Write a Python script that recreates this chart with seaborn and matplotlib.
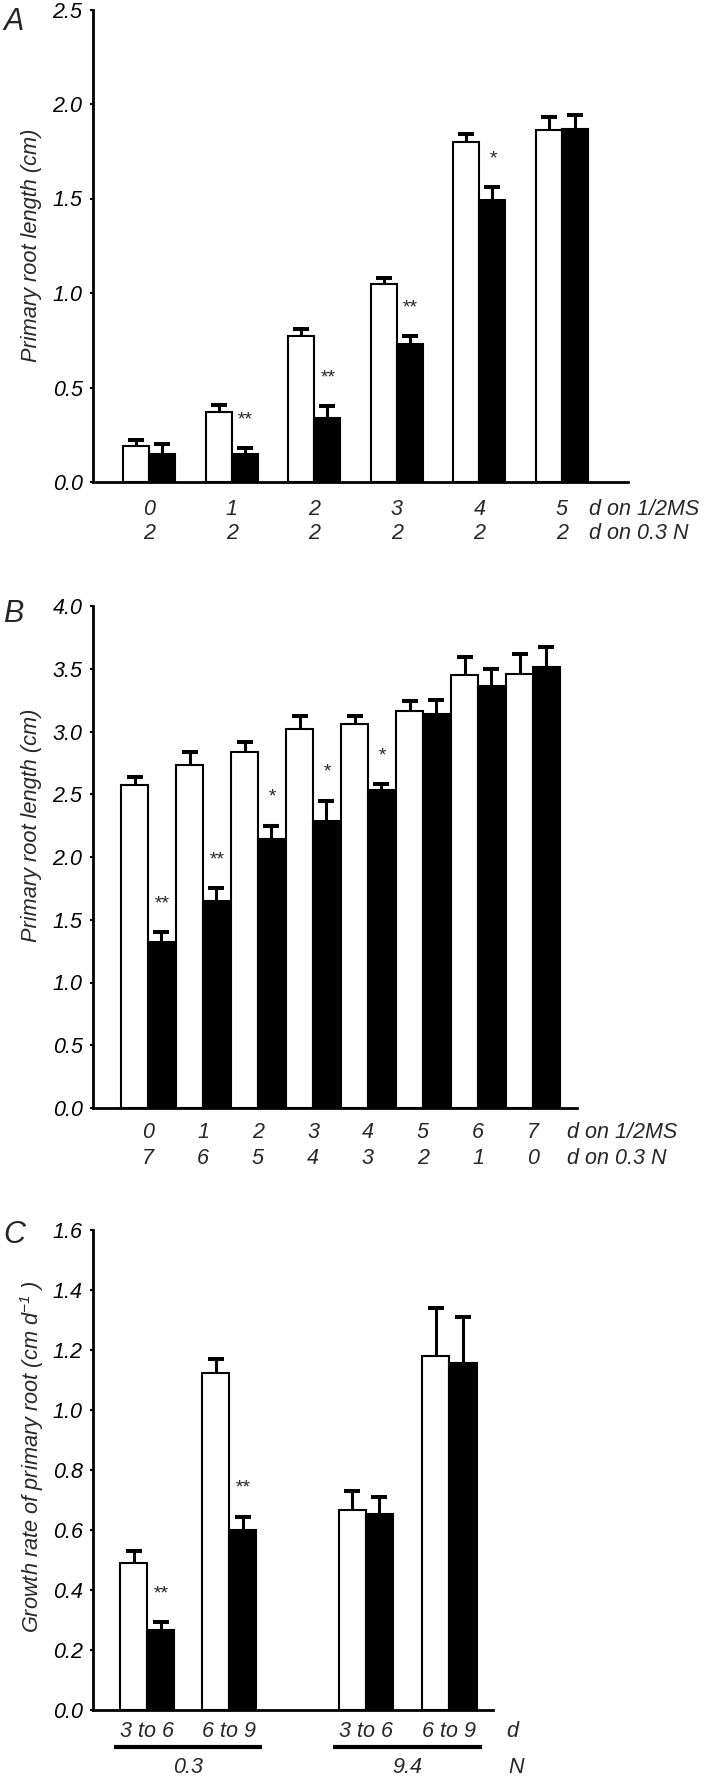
import numpy as np
import pandas as pd
import matplotlib
matplotlib.use("Agg")
import matplotlib.pyplot as plt
import seaborn as sns

# ---------------- data ----------------
treatments = ["1/2MS", "0.3 N"]

A_ms_days = ["0", "1", "2", "3", "4", "5"]
A_n_days = ["2", "2", "2", "2", "2", "2"]
A_white = [0.19, 0.37, 0.77, 1.05, 1.80, 1.86]
A_white_err = [0.03, 0.04, 0.04, 0.03, 0.04, 0.07]
A_black = [0.15, 0.15, 0.34, 0.73, 1.49, 1.87]
A_black_err = [0.05, 0.03, 0.06, 0.04, 0.07, 0.07]
A_sig = ["", "**", "**", "**", "*", ""]

B_ms_days = ["0", "1", "2", "3", "4", "5", "6", "7"]
B_n_days = ["7", "6", "5", "4", "3", "2", "1", "0"]
B_white = [2.57, 2.73, 2.84, 3.02, 3.06, 3.16, 3.45, 3.46]
B_white_err = [0.07, 0.11, 0.08, 0.10, 0.06, 0.08, 0.14, 0.16]
B_black = [1.32, 1.65, 2.14, 2.29, 2.53, 3.14, 3.36, 3.51]
B_black_err = [0.08, 0.10, 0.11, 0.16, 0.05, 0.11, 0.14, 0.16]
B_sig = ["**", "**", "*", "*", "*", "", "", ""]

C_days = ["3 to 6", "6 to 9", "3 to 6", "6 to 9"]
C_N = ["0.3", "9.4"]
C_white = [0.49, 1.125, 0.667, 1.18]
C_white_err = [0.04, 0.045, 0.063, 0.16]
C_black = [0.267, 0.60, 0.653, 1.157]
C_black_err = [0.025, 0.045, 0.057, 0.153]
C_sig = ["**", "**", "", ""]

# ---------------- style ----------------
sns.set_theme(style="ticks")
plt.rcParams["font.family"] = ["Liberation Sans", "DejaVu Sans"]
plt.rcParams["font.style"] = "italic"
plt.rcParams["mathtext.fontset"] = "custom"
plt.rcParams["mathtext.it"] = "Liberation Sans:italic"
plt.rcParams["mathtext.rm"] = "Liberation Sans:italic"
plt.rcParams["mathtext.default"] = "it"

TICK_FS = 15.5
LAB_FS = 15.5
YLAB_FS = 15.7

W, H = 705, 1777
fig = plt.figure(figsize=(W / 100, H / 100), dpi=100)


def px_axes(left, right, top, bottom):
    return fig.add_axes([left / W, 1 - bottom / H, (right - left) / W, (bottom - top) / H])


def panel(ax, positions, white, white_err, black, black_err, sig, width, ylim, ystep):
    positions = np.asarray(positions, dtype=float)
    n = len(positions)
    df = pd.DataFrame({
        "pos": np.concatenate([positions, positions]),
        "value": list(white) + list(black),
        "treat": ["ctrl"] * n + ["trt"] * n,
    })
    sns.barplot(data=df, x="pos", y="value", hue="treat", hue_order=["ctrl", "trt"],
                palette=["white", "black"], edgecolor="black", linewidth=1.5,
                width=width, errorbar=None, native_scale=True, legend=False,
                ax=ax, zorder=2)
    off = width / 4
    xw = positions - off
    xb = positions + off
    for xs, vals, errs in [(xw, white, white_err), (xb, black, black_err)]:
        eb = ax.errorbar(xs, vals, yerr=[np.zeros(n), errs], fmt="none", ecolor="black",
                         elinewidth=2.2, capsize=5.8, capthick=2.9, zorder=3)
        eb[1][0].set_visible(False)
    for i, s in enumerate(sig):
        if s:
            ax.annotate(s, xy=(xb[i], black[i] + black_err[i]), xytext=(0, 24),
                        textcoords="offset pixels", ha="center", va="baseline",
                        fontsize=14)
    ax.set_ylim(*ylim)
    ax.set_yticks(np.arange(ylim[0], ylim[1] + 1e-9, ystep))
    ax.set_yticklabels([f"{v:.1f}" for v in ax.get_yticks()])
    ax.set_xlabel("")
    ax.set_ylabel("")
    ax.tick_params(axis="x", length=0, labelbottom=False)
    ax.tick_params(axis="y", direction="out", length=2.5, width=1.5, pad=5.0,
                   labelsize=TICK_FS, colors="black")
    sns.despine(ax=ax)
    for sp in ["left", "bottom"]:
        ax.spines[sp].set_linewidth(2)
        ax.spines[sp].set_color("black")
    return xw, xb


def xlabel(ax, x, text, dy, dx=0, ha="center", size=LAB_FS):
    ax.annotate(text, xy=(x, 0), xycoords=("data", "axes fraction"),
                xytext=(dx, -dy), textcoords="offset pixels", ha=ha, va="baseline",
                fontsize=size)


# ---------------- panel A ----------------
axA = px_axes(93, 628, 9.5, 482)
posA = np.arange(len(A_ms_days))
panel(axA, posA, A_white, A_white_err, A_black, A_black_err, A_sig, 0.63, (0, 2.5), 0.5)
axA.set_xlim(-0.68, 5.80)
for i in range(len(posA)):
    xlabel(axA, posA[i], A_ms_days[i], 33)
    xlabel(axA, posA[i], A_n_days[i], 57)
xlabel(axA, posA[-1], "d on " + treatments[0], 33, dx=27, ha="left")
xlabel(axA, posA[-1], "d on " + treatments[1], 57, dx=27, ha="left")

# ---------------- panel B ----------------
axB = px_axes(93, 577, 606, 1108)
posB = np.arange(len(B_ms_days))
panel(axB, posB, B_white, B_white_err, B_black, B_black_err, B_sig, 0.98, (0, 4.0), 0.5)
axB.set_xlim(-1.0, 7.8)
for i in range(len(posB)):
    xlabel(axB, posB[i], B_ms_days[i], 30)
    xlabel(axB, posB[i], B_n_days[i], 56)
xlabel(axB, posB[-1], "d on " + treatments[0], 30, dx=34, ha="left")
xlabel(axB, posB[-1], "d on " + treatments[1], 56, dx=34, ha="left")

# ---------------- panel C ----------------
axC = px_axes(93, 493, 1230, 1710)
posC = np.array([0, 1, 2.66, 3.68])
panel(axC, posC, C_white, C_white_err, C_black, C_black_err, C_sig, 0.66, (0, 1.6), 0.2)
axC.set_xlim(-0.66, 4.21)
for i in range(len(posC)):
    xlabel(axC, posC[i], C_days[i], 27)
xlabel(axC, posC[-1], "d", 27, dx=57, ha="left")
xlabel(axC, posC[-1], "N", 63, dx=59, ha="left")
ytr = -37 / 480
for k, (a, b) in enumerate([(posC[0], posC[1]), (posC[2], posC[3])]):
    axC.plot([a - 0.4, b + 0.4], [ytr, ytr], color="black", lw=3,
             transform=axC.get_xaxis_transform(), clip_on=False, solid_capstyle="butt")
    xlabel(axC, (a + b) / 2, C_N[k], 63)

# ---------------- labels ----------------
fig.text(31.5 / W, 1 - 245 / H, "Primary root length (cm)", rotation=90,
         ha="center", va="center", fontsize=YLAB_FS)
fig.text(31.5 / W, 1 - 825 / H, "Primary root length (cm)", rotation=90,
         ha="center", va="center", fontsize=YLAB_FS)
fig.text(32 / W, 1 - 1457 / H, "Growth rate of primary root (cm d$^{-1}$ )", rotation=90,
         ha="center", va="center", fontsize=YLAB_FS)
for letter, top in [("A", 7), ("B", 599), ("C", 1220)]:
    fig.text(3 / W, 1 - top / H, letter, ha="left", va="top", fontsize=22)

fig.savefig("out.png", dpi=100)
